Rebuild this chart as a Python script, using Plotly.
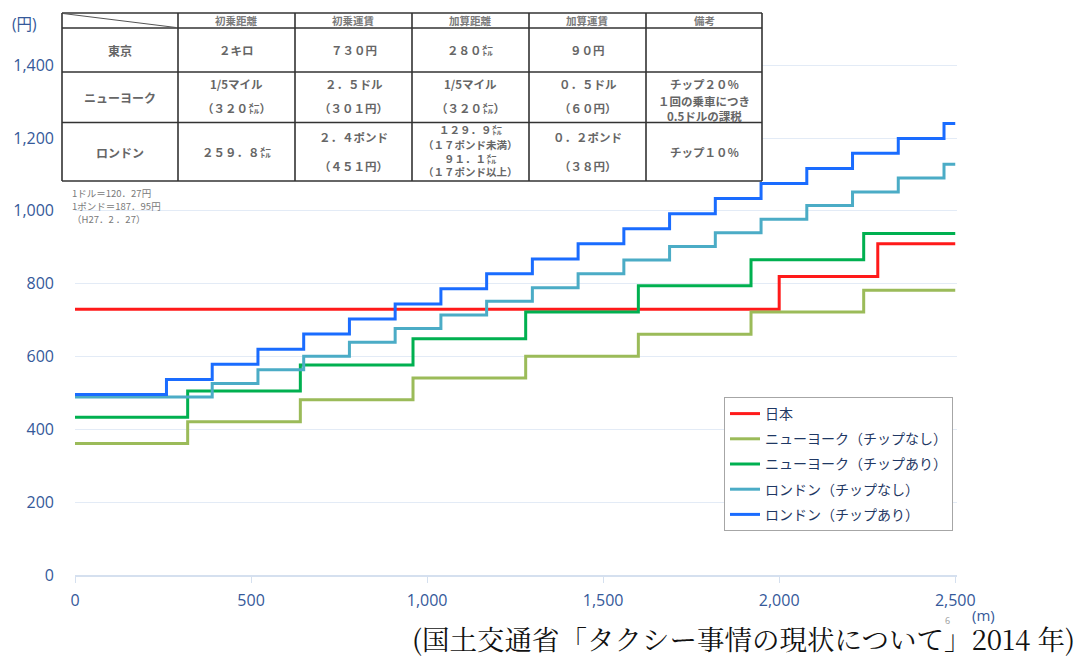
import plotly.graph_objects as go

# ---------------- data ----------------
series_names = ["日本", "ニューヨーク（チップなし）", "ニューヨーク（チップあり）",
                "ロンドン（チップなし）", "ロンドン（チップあり）"]
series_colors = ["#ff1a1a", "#9bbb59", "#00b050", "#4bacc6", "#1a6cff"]

japan_dist = [0, 2000, 2280, 2500]
japan_fare = [730, 820, 910, 910]

ny_dist = [0, 320, 640, 960, 1280, 1600, 1920, 2240, 2500]
ny_notip_fare = [361, 421, 481, 541, 601, 661, 722, 782, 782]
ny_tip_fare = [433, 505, 577, 649, 722, 794, 866, 938, 938]

london_notip_dist = [0, 389.7, 519.6, 649.5, 779.4, 909.3, 1039.2, 1169.1, 1299.0,
                     1428.9, 1558.8, 1688.7, 1818.6, 1948.5, 2078.4, 2208.3, 2338.2,
                     2468.1, 2500]
london_notip_fare = [489, 526, 564, 601, 639, 677, 714, 752, 789, 827, 865, 902, 940,
                     977, 1015, 1052, 1090, 1128, 1128]
london_tip_dist = [0, 259.8, 389.7, 519.6, 649.5, 779.4, 909.3, 1039.2, 1169.1, 1299.0,
                   1428.9, 1558.8, 1688.7, 1818.6, 1948.5, 2078.4, 2208.3, 2338.2,
                   2468.1, 2500]
london_tip_fare = [496, 537, 579, 620, 662, 703, 744, 786, 827, 868, 910, 951, 992,
                   1034, 1075, 1116, 1158, 1199, 1240, 1240]

x_ticks = [0, 500, 1000, 1500, 2000, 2500]
x_tick_labels = ["0", "500", "1,000", "1,500", "2,000", "2,500"]
y_ticks = [0, 200, 400, 600, 800, 1000, 1200, 1400]
y_tick_labels = ["0", "200", "400", "600", "800", "1,000", "1,200", "1,400"]

table_header = ["初乗距離", "初乗運賃", "加算距離", "加算運賃", "備考"]
table_rows = ["東京", "ニューヨーク", "ロンドン"]
tokyo_cells = [["２キロ"], ["７３０円"], ["２８０㍍"], ["９０円"], []]
ny_cells = [["1/5マイル", "（３２０㍍）"], ["２．５ドル", "（３０１円）"],
            ["1/5マイル", "（３２０㍍）"], ["０．５ドル", "（６０円）"],
            ["チップ２０％", "１回の乗車につき", "0.5ドルの課税"]]
london_cells = [["２５９．８㍍"], ["２．４ポンド", "（４５１円）"],
                ["１２９．９㍍", "（１７ポンド未満）", "９１．１㍍", "（１７ポンド以上）"],
                ["０．２ポンド", "（３８円）"], ["チップ１０％"]]
rate_notes = ["1ドル＝120．27円", "1ポンド＝187．95円", "（H27．2 ．27）"]
caption = "(国土交通省「タクシー事情の現状について」2014 年)"

# ---------------- figure ----------------
W, H = 1083, 658
ML, MR, MT, MB = 75, 126, 47, 83
PW, PH = W - ML - MR, H - MT - MB


def px(x):
    return (x - ML) / PW


def py(y):
    return (H - MB - y) / PH


fig = go.Figure()
all_series = [(japan_dist, japan_fare), (ny_dist, ny_notip_fare), (ny_dist, ny_tip_fare),
              (london_notip_dist, london_notip_fare), (london_tip_dist, london_tip_fare)]
for i, (d, f) in enumerate(all_series):
    fig.add_trace(go.Scatter(x=d, y=f, mode="lines", name=series_names[i],
                             line=dict(color=series_colors[i], width=3, shape="hv"),
                             legendgroup=str(i)))

tick_font = dict(family="Open Sans, Noto Sans, sans-serif", size=16, color="#35599a")
fig.update_layout(
    width=W, height=H,
    margin=dict(l=ML, r=MR, t=MT, b=MB),
    paper_bgcolor="white", plot_bgcolor="white",
    xaxis=dict(range=[0, 2505], tickvals=x_ticks, ticktext=x_tick_labels,
               showgrid=False, zeroline=False, showline=True, linecolor="#d5e0ef",
               linewidth=1.5, ticks="outside", ticklen=6, tickcolor="#d5e0ef",
               tickfont=tick_font, ticklabelstandoff=4),
    yaxis=dict(range=[0, 1450], tickvals=y_ticks, ticktext=y_tick_labels,
               showgrid=True, gridcolor="#e3ebf6", gridwidth=1.2, zeroline=False,
               showline=False, tickfont=tick_font, ticklabelstandoff=20),
    legend=dict(x=px(724), y=py(397), xanchor="left", yanchor="top",
                bgcolor="white", bordercolor="#a6a6a6", borderwidth=1,
                font=dict(family="Noto Sans CJK JP", size=14, color="#1f3864"),
                traceorder="grouped", tracegroupgap=4, itemwidth=30),
    showlegend=True,
)

shapes = []
anns = []
# table
T_X = [62, 178, 295, 412, 529, 646, 762]
T_Y = [13, 28, 72, 122.5, 181]
shapes.append(dict(type="rect", xref="paper", yref="paper", x0=px(T_X[0]), x1=px(T_X[-1]),
                   y0=py(T_Y[0]), y1=py(T_Y[-1]), fillcolor="white", line=dict(width=0),
                   layer="above"))
for yy in T_Y:
    shapes.append(dict(type="line", xref="paper", yref="paper", x0=px(T_X[0]), x1=px(T_X[-1]),
                       y0=py(yy), y1=py(yy), line=dict(color="#333333", width=1.6), layer="above"))
for xx in T_X:
    shapes.append(dict(type="line", xref="paper", yref="paper", x0=px(xx), x1=px(xx),
                       y0=py(T_Y[0]), y1=py(T_Y[-1]), line=dict(color="#333333", width=1.6),
                       layer="above"))
shapes.append(dict(type="line", xref="paper", yref="paper", x0=px(63), x1=px(176),
                   y0=py(13.5), y1=py(27.5), line=dict(color="#555555", width=1), layer="above"))

cell_font = dict(family="Noto Sans CJK JP", size=11.5, color="#666666", weight="bold")


def txt(x, y, s, font, xanchor="center"):
    anns.append(dict(xref="paper", yref="paper", x=px(x), y=py(y), text=s, showarrow=False,
                     xanchor=xanchor, yanchor="middle", font=font))


col_c = [(T_X[i] + T_X[i + 1]) / 2 for i in range(len(T_X) - 1)]
for j, h in enumerate(table_header):
    txt(col_c[j + 1], 20.5, h, dict(family="Noto Sans CJK JP", size=10.5, color="#7a7a7a", weight="bold"))
row_c = [50, 97, 152]
for r, name in enumerate(table_rows):
    txt(col_c[0], row_c[r], name, dict(cell_font, size=12))

for j, lines in enumerate(tokyo_cells):
    for s in lines:
        txt(col_c[j + 1], 50, s, cell_font)
ny_y = {2: [84, 108], 3: [84, 101, 116]}
for j, lines in enumerate(ny_cells):
    ys = ny_y[len(lines)]
    for s, yy in zip(lines, ys):
        txt(col_c[j + 1], yy, s, cell_font)
lon_y = {1: [152], 2: [137, 166], 4: [129, 144, 158, 172]}
for j, lines in enumerate(london_cells):
    ys = lon_y[len(lines)]
    f = cell_font if len(lines) < 4 else dict(cell_font, size=10.5)
    for s, yy in zip(lines, ys):
        txt(col_c[j + 1], yy, s, f)

note_font = dict(family="Noto Sans CJK JP", size=9.5, color="#7a7a7a")
for s, yy in zip(rate_notes, [193, 206, 219]):
    txt(70, yy, s, note_font, xanchor="left")

# axis unit labels
unit_font = dict(family="Open Sans, Noto Sans CJK JP", size=15, color="#35599a")
txt(24, 24, "(円)", dict(unit_font, size=15.5))
txt(983, 615, "(m)", unit_font)
txt(947, 620, "6", dict(family="Open Sans", size=9, color="#9a9a9a"))
txt(1077, 638, caption, dict(family="Noto Serif CJK JP, Liberation Serif, serif", size=27.5,
                             color="#111111"), xanchor="right")

fig.update_layout(shapes=shapes, annotations=anns)
fig.write_html("out.html")
